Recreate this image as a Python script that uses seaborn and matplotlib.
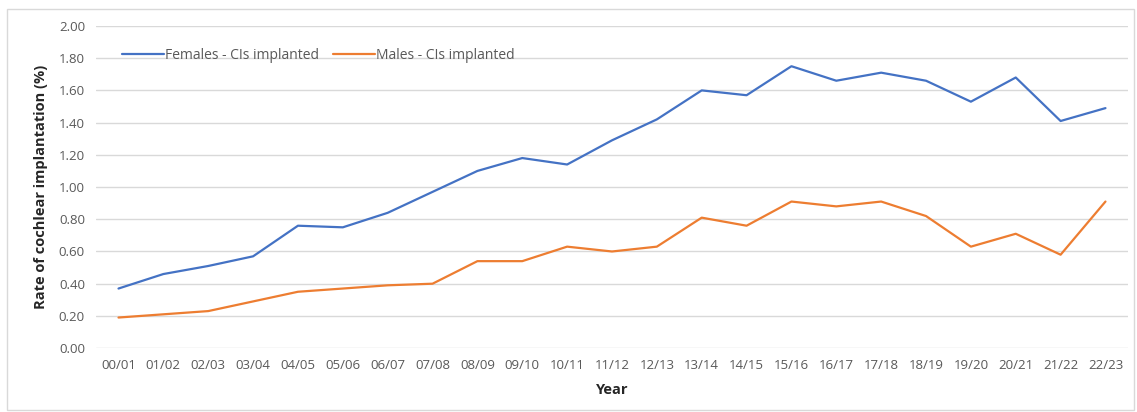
import numpy as np
import seaborn as sns
import matplotlib.pyplot as plt
import pandas as pd
from matplotlib.patches import Rectangle

years = ['00/01', '01/02', '02/03', '03/04', '04/05', '05/06', '06/07', '07/08',
         '08/09', '09/10', '10/11', '11/12', '12/13', '13/14', '14/15', '15/16',
         '16/17', '17/18', '18/19', '19/20', '20/21', '21/22', '22/23']
females = [0.37, 0.46, 0.51, 0.57, 0.76, 0.75, 0.84, 0.97, 1.10, 1.18, 1.14, 1.29,
           1.42, 1.60, 1.57, 1.75, 1.66, 1.71, 1.66, 1.53, 1.68, 1.41, 1.49]
males = [0.19, 0.21, 0.23, 0.29, 0.35, 0.37, 0.39, 0.40, 0.54, 0.54, 0.63, 0.60,
         0.63, 0.81, 0.76, 0.91, 0.88, 0.91, 0.82, 0.63, 0.71, 0.58, 0.91]
series_names = ['Females - CIs implanted', 'Males - CIs implanted']

df = pd.DataFrame({'Year': years * 2,
                   'Rate': females + males,
                   'Series': [series_names[0]] * len(years) + [series_names[1]] * len(years)})

sns.set_style('white')
plt.rcParams['font.family'] = ['Open Sans', 'DejaVu Sans']

fig = plt.figure(figsize=(11.37, 4.12), dpi=100)
ax = fig.add_axes([0.0845, 0.155, 0.9075, 0.782])

sns.lineplot(data=df, x='Year', y='Rate', hue='Series', sort=False,
             palette=['#4472C4', '#ED7D31'], linewidth=1.6, ax=ax)

ax.set_ylim(0, 2.0)
ax.set_yticks(np.arange(0, 2.01, 0.2))
ax.set_yticklabels([f'{v:.2f}' for v in np.arange(0, 2.01, 0.2)])
ax.set_xlim(-0.5, len(years) - 0.5)
ax.yaxis.grid(True, color='#D9D9D9', linewidth=1)
ax.set_axisbelow(True)
for s in ax.spines.values():
    s.set_visible(False)
ax.tick_params(axis='both', length=0, labelsize=9.5, colors='#595959', pad=8)

ax.set_xlabel('Year', fontsize=10.5, fontweight='bold', color='#262626', labelpad=8)
ax.set_ylabel('Rate of cochlear implantation (%)', fontsize=10.5, fontweight='bold',
              color='#262626', labelpad=8)

leg = ax.legend(loc='upper left', bbox_to_anchor=(0.013, 0.97), ncol=2, frameon=False,
                fontsize=10, handlelength=3.0, handletextpad=0.1, columnspacing=1.0)
for t in leg.get_texts():
    t.set_color('#595959')

fig.patches.append(Rectangle((7 / 1137, 2 / 412), 1127 / 1137, 401 / 412,
                             transform=fig.transFigure, fill=False,
                             edgecolor='#D9D9D9', linewidth=1))

fig.savefig('out.png', dpi=100)
